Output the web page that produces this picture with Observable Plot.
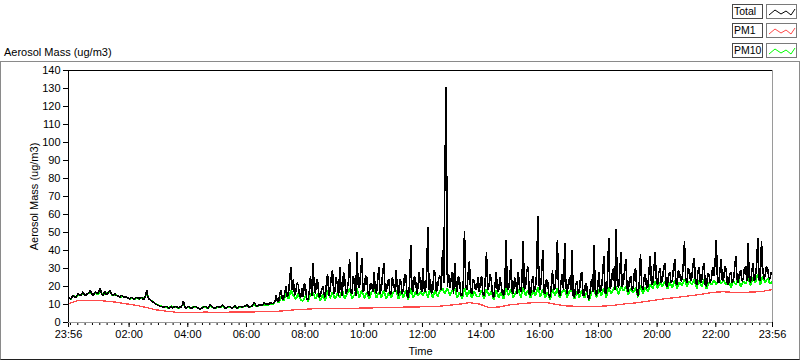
<!DOCTYPE html>
<html>
<head>
<meta charset="utf-8">
<style>
  html, body { margin: 0; padding: 0; background: #fff; }
  body { font-family: "Liberation Sans", Arial, sans-serif; font-size: 11px; color: #000; }
  #wrap { position: relative; width: 800px; height: 361px; overflow: hidden; background: #fff; }
  #wrap svg.plot { position: absolute; left: 0; top: 0; }
  .frame { position: absolute; left: 0; top: 61px; width: 800px; height: 299px; box-sizing: border-box;
           border-top: 1px solid #8a8a8a; border-left: 1px solid #8a8a8a; border-right: 1px solid #8a8a8a; border-bottom: 1px solid #202020; }
  .title { position: absolute; left: 4px; top: 46px; line-height: 13px; font-size: 11px; white-space: nowrap; }
  .lab { position: absolute; left: 732px; width: 31px; height: 15px; box-sizing: border-box; border: 1px solid #4a4a4a;
         background: #fff; font-size: 10.5px; line-height: 13px; padding-left: 1px; white-space: nowrap; overflow: hidden; }
  .sam { position: absolute; left: 766px; width: 31px; height: 15px; box-sizing: border-box; border: 1px solid #7a7a7a;
         background: #fff; }
  .sam svg { position: absolute; left: 0; top: 0; }
</style>
<script src="https://cdn.jsdelivr.net/npm/d3@7"></script>
<script src="https://cdn.jsdelivr.net/npm/@observablehq/plot@0.6"></script>
</head>
<body>
<div id="wrap"></div>
<script>
// ---------------- data ----------------
const seriesNames = ["Total", "PM1", "PM10"];
const seriesColors = ["#000000", "#ff4a4a", "#00ff00"];

// sampling steps, in minutes after 23:56
const totalStepMinutes = 2.5;
const pm10StepMinutes = 5;
const pm1StepMinutes = 20;

// Total aerosol mass (ug/m3), one value every 2.5 min from 23:56 (one row per hour)
const totalMass = [
  14,13.5,13,14.5,15,14,14,15,16,15.5,15,16,17,15.5,15,16,16,17,18,16,15,16,17,16.5,
  16,17.5,19,16,15,16.5,17,15.5,16,17,18,16,15,15.5,16,15,15,14.5,14,15,15,14,14,14.5,
  14,13.5,13,14,14,13,13,14,14,13.5,13,14,14,13,13,15,18,14,13,12.5,12,11.5,11,10.5,
  10,9.5,9.5,9,9,8.5,8.5,9,9,8.5,8,8.5,9,8,8.5,9,9,8.5,8,8.5,8.5,9.5,12,9,
  8,8.5,9,8.5,8,8,8.5,9,9,8.5,8,7.5,7.5,8,8.5,9,9,8.5,8,9,10,9,8.5,8,
  8,8.5,9,8.5,8.5,9,10,9,8,8,8.5,9,9,8.5,8,8.5,9.5,8.5,8,8.5,9,9,8.5,9,
  9,9.5,10,9,8.5,9,9,10,11,10,9,9.5,10,9.5,9.5,10,11,10.5,10,10.5,10,11,11,10.5,
  11,12,15,11.5,12,16,18,12.5,13,17,20,14,16,24,31,18,24,15,17,22,21,15,14,19,
  14,22,19,13,13,17,26,15,33,21,16,24,22,14,15,18,20,16,14,21,27,15,18,25,
  29,16,17,25,21,15,31,19,15,28,24,16,18,23,35,17,16,26,22,15,39,21,19,27,
  36,17,18,26,25,16,15,22,21,17,28,19,16,24,31,16,19,27,33,18,17,22,24,16,
  16,25,22,17,29,20,15,24,23,16,18,27,26,15,14,21,43,19,17,26,23,16,20,28,
  21,17,30,19,17,26,53,18,24,16,18,29,27,17,20,25,26,18,40,22,85,131,20,27,
  19,24,28,16,33,21,17,26,23,15,15,22,51,20,18,27,34,17,16,24,23,18,19,25,
  17,22,26,16,15,24,39,18,20,27,23,15,14,21,28,17,18,25,21,16,15,20,46,19,
  18,24,35,17,16,25,22,16,28,20,17,23,45,18,20,29,31,16,15,22,26,17,19,27,
  59,21,18,26,40,17,16,24,23,15,14,20,29,18,19,27,46,17,15,23,27,18,44,20,
  16,22,25,18,40,15,14,21,23,16,17,26,28,15,15,22,20,14,13,19,24,17,43,18,
  15,20,28,17,18,26,37,17,16,24,47,19,20,28,30,18,52,23,19,27,39,20,22,29,
  35,19,17,24,26,18,19,28,30,17,15,22,38,20,18,25,27,19,20,29,37,21,22,30,
  39,23,21,28,30,22,24,31,33,21,20,27,28,22,23,30,35,22,21,29,27,23,24,32,
  45,24,22,30,29,23,25,32,36,22,21,28,31,22,23,30,33,21,20,27,27,22,24,31,
  26,33,46,23,22,29,35,23,24,31,30,22,21,27,28,22,23,30,37,24,22,28,29,23,
  24,30,31,23,44,25,22,28,33,23,25,32,47,24,23,45,30,24,26,31,30,25,24,28,
  26
];

// PM10 (ug/m3), one value every 5 min from 23:56 (one row per hour)
const pm10Mass = [
  14,13,15,14,15,15,16.5,15,16,17,15,16.5,
  15.5,17.5,15,16.5,16,17,15,15.5,15,14,14.5,14,
  14,13,13.5,13,13.5,13,14,13,16.5,13,12,11,
  10,9.5,9,8.5,8.5,8,9,8.5,8.5,8,8.5,10.5,
  8,8.5,8,8.5,8.5,8,7.5,8.5,8.5,8,9,8.5,
  8,8.5,8.5,9,8,8.5,8.5,8,9,8,8.5,8.5,
  9,9.5,8.5,9,10,9,9.5,9.5,10,9.5,10,10.5,
  10.5,13,11,14.5,12,16,13,18,15,13,16,12.5,
  12,15,11.5,16,17,13,16,12,15.5,12,18,13.5,
  17,13,16,14,18,13,16,19,13,15.5,19,14,
  18,13.5,16.5,13,17,18.5,13.5,17,14,18,13,16.5,
  14,17,18,13,17.5,14,18,12.5,19,13.5,17,15,
  17,15,18,14,19,13.5,18,14.5,17.5,19,16,19,
  15,18,19,13.5,17,13,19,14.5,18,13.5,17.5,14.5,
  14.5,18,13,18.5,15,17.5,12.5,18,14,17,13,19,
  15,18.5,14,17,18.5,14,19.5,15,18,13.5,18,15,
  19.5,14.5,18.5,14,17,12.5,18.5,15,19,13.5,17.5,18,
  14,17.5,18,13,17.5,14,18,13.5,17,12,17,18.5,
  14,18.5,15,19,14,19.5,16,19,20,15.5,20,17.5,
  20,15.5,19,16.5,19.5,14,20.5,16,19.5,17,21,19,
  23,19,22.5,20,23,18.5,22.5,19.5,23.5,19,22.5,20.5,
  24,20,23,21,24,19,23.5,20,24,18.5,22.5,21,
  23.5,21,24.5,21.5,23.5,21,24,19.5,23,21,24.5,20,
  23,21.5,25,20.5,25,22,27,21,25.5,22,24.5,21.5,
  23
];

// PM1 (ug/m3), one value every 20 min from 23:56
const pm1Mass = [
  10.4,12.2,12.4,12.3,11.8,11.2,10.3,9.5,8.3,7.0,6.3,5.7,
  5.5,5.6,5.8,5.6,5.7,5.8,5.8,5.9,6.0,6.1,6.5,7.0,
  7.3,7.6,7.8,7.6,7.7,7.9,8.0,8.1,8.3,8.5,8.5,8.6,
  8.7,8.7,9.1,9.6,10.2,11.0,10.3,8.3,8.6,9.7,10.3,10.8,
  11.2,11.0,9.9,9.2,9.0,8.9,8.9,9.2,9.7,10.4,10.9,11.7,
  12.4,13.2,13.8,14.5,15.1,15.9,16.8,17.1,16.7,16.8,16.9,17.3,
  18.3
];

// axis ticks
const timeTickMinutes = [0,124,244,364,484,604,724,844,964,1084,1204,1324,1440];
const timeTickLabels = ["23:56","02:00","04:00","06:00","08:00","10:00","12:00","14:00","16:00","18:00","20:00","22:00","23:56"];
const minorTickMinutes = d3.range(4, 1440, 15);
const yTicks = [0,10,20,30,40,50,60,70,80,90,100,110,120,130,140];
const yLabel = "Aerosol Mass (ug/m3)";
const xLabel = "Time";

// ---------------- build tables ----------------
const totalRows = totalMass.map((v, i) => ({t: i * totalStepMinutes, v}));
const pm10Rows = pm10Mass.map((v, i) => ({t: i * pm10StepMinutes, v}));
const pm1Rows = pm1Mass.map((v, i) => ({t: i * pm1StepMinutes, v}));

const chart = Plot.plot({
  width: 800,
  height: 361,
  marginLeft: 68,
  marginRight: 28,
  marginTop: 70,
  marginBottom: 39,
  style: {fontFamily: "Liberation Sans, Arial, sans-serif", fontSize: "11px", background: "transparent", color: "#000", overflow: "visible"},
  x: {domain: [0, 1440], label: null},
  y: {domain: [0, 140], label: null},
  marks: [
    Plot.axisX(minorTickMinutes, {tickSize: 3, tickFormat: () => "", label: null}),
    Plot.axisX(timeTickMinutes, {
      tickSize: 5, tickPadding: 3,
      tickFormat: (d) => timeTickLabels[timeTickMinutes.indexOf(d)],
      label: xLabel, labelAnchor: "center", labelOffset: 32, labelArrow: "none"
    }),
    Plot.axisY(yTicks, {
      tickSize: 5, tickPadding: 3,
      label: yLabel, labelAnchor: "center", labelOffset: 38, labelArrow: "none"
    }),
    Plot.line(pm10Rows, {x: "t", y: "v", stroke: seriesColors[2], strokeWidth: 1.8, strokeLinejoin: "miter", shapeRendering: "crispEdges"}),
    Plot.line(totalRows, {x: "t", y: "v", stroke: seriesColors[0], strokeWidth: 1.6, strokeLinejoin: "miter", shapeRendering: "crispEdges"}),
    Plot.line(pm1Rows, {x: "t", y: "v", stroke: seriesColors[1], strokeWidth: 1.3, shapeRendering: "crispEdges"}),
    Plot.ruleY([0], {stroke: "#9a9a9a"}),
    Plot.ruleX([1440], {stroke: "#9a9a9a"}),
    Plot.ruleY([140], {stroke: "#000"}),
    Plot.ruleX([0], {stroke: "#000"})
  ]
});

const wrap = document.getElementById("wrap");
wrap.appendChild(chart);

// outer panel frame
const frame = document.createElement("div");
frame.className = "frame";
wrap.appendChild(frame);

// chart title (top left)
const title = document.createElement("div");
title.className = "title";
title.textContent = yLabel;
wrap.appendChild(title);

// legend (top right)
const legendTops = [4, 23, 43];
seriesNames.forEach((name, k) => {
  const lab = document.createElement("div");
  lab.className = "lab";
  lab.style.top = legendTops[k] + "px";
  lab.textContent = name;
  wrap.appendChild(lab);
  const sam = document.createElement("div");
  sam.className = "sam";
  sam.style.top = legendTops[k] + "px";
  sam.innerHTML = `<svg width="29" height="13"><polyline points="2,10 8,5 14,9 19,6 24,10 28,4" fill="none" stroke="${seriesColors[k]}" stroke-width="1"/></svg>`;
  wrap.appendChild(sam);
});
</script>
</body>
</html>
